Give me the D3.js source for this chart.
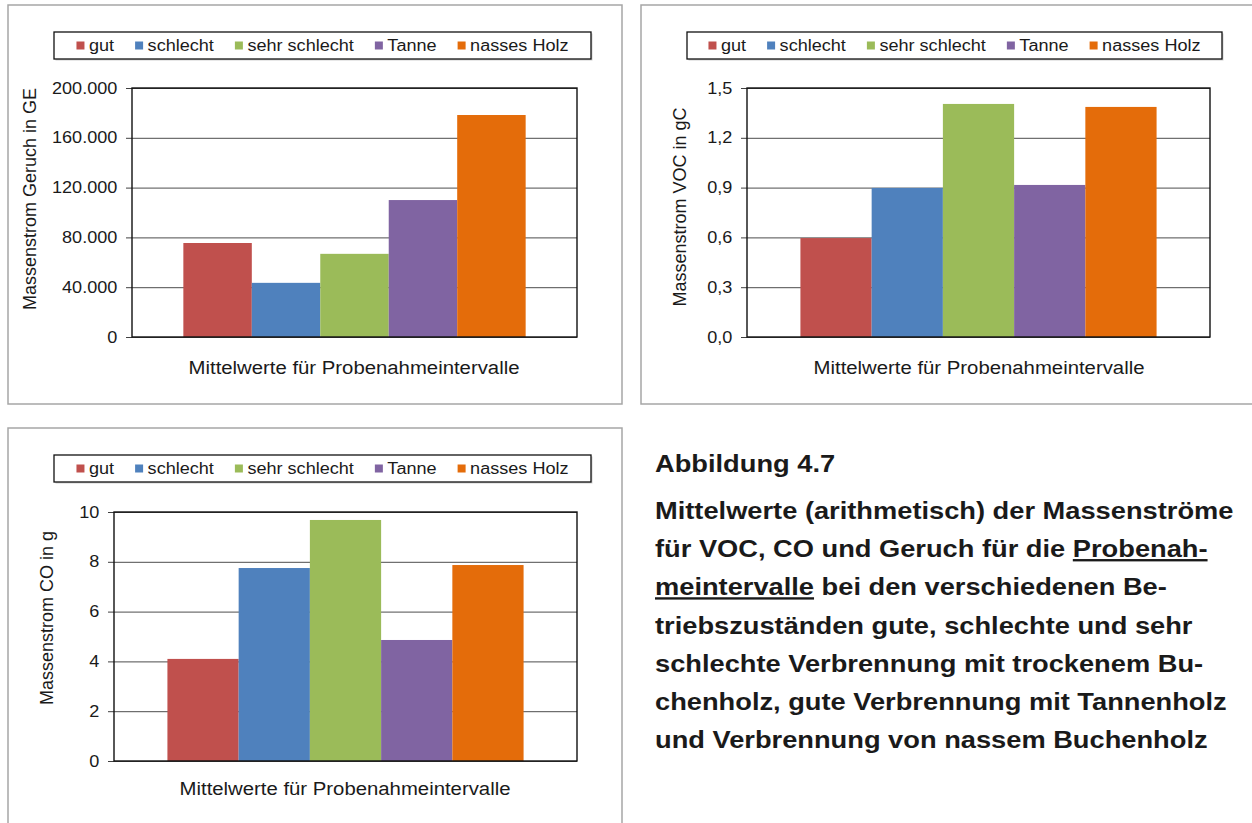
<!DOCTYPE html>
<html>
<head>
<meta charset="UTF-8">
<title>Massenströme</title>
<script type="text/javascript" src="https://cdn.jsdelivr.net/npm/d3@7"></script>
<style type="text/css">
body{margin:0;background:#fff;}
svg text{font-family:"Liberation Sans",Arial,sans-serif;fill:#1a1a1a;}
</style>
</head>
<body>
<script type="text/javascript">
// data
var series=["gut","schlecht","sehr schlecht","Tanne","nasses Holz"];
var colors=["#C0504D","#4F81BD","#9BBB59","#8064A2","#E46C0A"];
var geruchValues=[75500,43500,66800,110000,178300];
var vocValues=[0.596,0.898,1.404,0.916,1.386];
var coValues=[4.10,7.75,9.68,4.86,7.87];
var geruchTicks=[0,40000,80000,120000,160000,200000];
var vocTicks=[0,0.3,0.6,0.9,1.2,1.5];
var coTicks=[0,2,4,6,8,10];
var xTitle="Mittelwerte für Probenahmeintervalle";
var captionTitle="Abbildung 4.7";
// each line: [text, underlined?]
var captionLines=[
	[["Mittelwerte (arithmetisch) der Massenströme",false]],
	[["für VOC, CO und Geruch für die ",false],["Probenah-",true]],
	[["meintervalle",true],[" bei den verschiedenen Be-",false]],
	[["triebszuständen gute, schlechte und sehr",false]],
	[["schlechte Verbrennung mit trockenem Bu-",false]],
	[["chenholz, gute Verbrennung mit Tannenholz",false]],
	[["und Verbrennung von nassem Buchenholz",false]]
];

var width=1252,height=823;
var sx=1.13;//Text im Original leicht in die Breite gezogen
var de=d3.formatLocale({decimal:",",thousands:".",grouping:[3],currency:["","€"]});

var svg=d3.select("body").append("svg")
	.attr("width",width)
	.attr("height",height);

var panels=[
	{values:geruchValues,ticks:geruchTicks,fmt:de.format(",.0f"),yTitle:"Massenstrom Geruch in GE",
	 frame:[8,5,614,399],plot:{l:132,t:88,r:577,b:337},legend:[54,32,537,27],yt:[30,199],xt:[354,368]},
	{values:vocValues,ticks:vocTicks,fmt:de.format(",.1f"),yTitle:"Massenstrom VOC in gC",
	 frame:[641,5,640,399],plot:{l:747,t:88,r:1210,b:337},legend:[687,32,535,27],yt:[680,207],xt:[979,368]},
	{values:coValues,ticks:coTicks,fmt:de.format("d"),yTitle:"Massenstrom CO in g",
	 frame:[8,428,614,420],plot:{l:114,t:512,r:577,b:761},legend:[54,455,537,27],yt:[47,618],xt:[345,789]}
];

panels.forEach(drawPanel);

function drawPanel(p){
	var g=svg.append("g");
	g.append("rect")
	 .attr("x",p.frame[0]).attr("y",p.frame[1])
	 .attr("width",p.frame[2]).attr("height",p.frame[3])
	 .attr("fill","#fff").attr("stroke","#a6a6a6").attr("stroke-width",1.5);

	var y=d3.scaleLinear().domain([0,d3.max(p.ticks)]).range([p.plot.b,p.plot.t]);
	var x=d3.scaleBand().domain(series).range([p.plot.l,p.plot.r]).paddingInner(0).paddingOuter(0.75);

	// Gitternetz
	var grid=g.append("g").attr("transform","translate("+p.plot.l+",0)")
		.call(d3.axisLeft(y).tickValues(p.ticks).tickSize(-(p.plot.r-p.plot.l)).tickFormat(""));
	grid.select(".domain").remove();
	grid.selectAll("line").attr("stroke","#4d4d4d").attr("stroke-width",1);

	// Balken
	g.append("g").selectAll("rect")
	 .data(p.values)
	 .enter()
	 .append("rect")
	 .attr("x",function(d,i){return x(series[i]);})
	 .attr("y",function(d){return y(d);})
	 .attr("width",x.bandwidth())
	 .attr("height",function(d){return y(0)-y(d);})
	 .attr("fill",function(d,i){return colors[i];});

	// Achse mit Beschriftung
	var ax=g.append("g").attr("transform","translate("+p.plot.l+",0)")
		.call(d3.axisLeft(y).tickValues(p.ticks).tickSize(6).tickPadding(7).tickFormat(p.fmt));
	ax.select(".domain").remove();
	ax.selectAll("line").attr("stroke","#404040");
	ax.selectAll("text")
	  .attr("font-size","16px")
	  .attr("font-family","Liberation Sans, Arial, sans-serif")
	  .attr("fill","#1a1a1a")
	  .attr("transform","scale("+sx+",1)");

	// Zeichenfläche
	g.append("rect")
	 .attr("x",p.plot.l).attr("y",p.plot.t)
	 .attr("width",p.plot.r-p.plot.l).attr("height",p.plot.b-p.plot.t)
	 .attr("fill","none").attr("stroke","#111").attr("stroke-width",1.4);

	// Legende
	var L=p.legend;
	g.append("rect")
	 .attr("x",L[0]+1.5).attr("y",L[1]+1.5).attr("width",L[2]).attr("height",L[3])
	 .attr("fill","#d0d0d0");
	g.append("rect")
	 .attr("x",L[0]).attr("y",L[1]).attr("width",L[2]).attr("height",L[3])
	 .attr("fill","#fff").attr("stroke","#111").attr("stroke-width",1.3);
	var lg=g.append("g");
	var items=lg.selectAll("g").data(series).enter().append("g");
	items.append("rect").attr("width",8).attr("height",8).attr("y",-4)
		.attr("fill",function(d,i){return colors[i];});
	var lt=items.append("text")
		.attr("font-size","16px")
		.attr("dy","0.35em")
		.attr("transform","translate(12.5,0) scale("+sx+",1)")
		.text(function(d){return d;});
	var widths=[];
	lt.each(function(){widths.push(12.5+this.getComputedTextLength()*sx);});
	var gap=21;
	var total=d3.sum(widths)+gap*(widths.length-1);
	var cx=L[0]+(L[2]-total)/2,cy=L[1]+L[3]/2;
	items.attr("transform",function(d,i){
		var off=d3.sum(widths.slice(0,i))+gap*i;
		return "translate("+(cx+off)+","+cy+")";
	});

	// Achsentitel
	g.append("text")
	 .attr("font-size","18px")
	 .attr("text-anchor","middle")
	 .attr("dy","0.35em")
	 .attr("transform","translate("+p.yt[0]+","+p.yt[1]+") rotate(-90)")
	 .text(p.yTitle);
	g.append("text")
	 .attr("font-size","18px")
	 .attr("text-anchor","middle")
	 .attr("dy","0.35em")
	 .attr("transform","translate("+p.xt[0]+","+p.xt[1]+") scale("+sx+",1)")
	 .text(xTitle);
}

// Bildunterschrift
var cap=svg.append("g");
var capX=655,capSx=1.16;
cap.append("text")
   .attr("font-size","23.5px").attr("font-weight","bold")
   .attr("transform","translate("+capX+",472) scale("+capSx+",1)")
   .text(captionTitle);
cap.selectAll("text.line")
   .data(captionLines)
   .enter()
   .append("text")
   .attr("class","line")
   .attr("font-size","23.5px").attr("font-weight","bold")
   .attr("transform",function(d,i){return "translate("+capX+","+(519+i*38.2)+") scale("+capSx+",1)";})
   .each(function(d){
	   var t=d3.select(this);
	   d.forEach(function(s){
		   t.append("tspan").text(s[0]).style("text-decoration",s[1]?"underline":"none");
	   });
   });
</script>
</body>
</html>
